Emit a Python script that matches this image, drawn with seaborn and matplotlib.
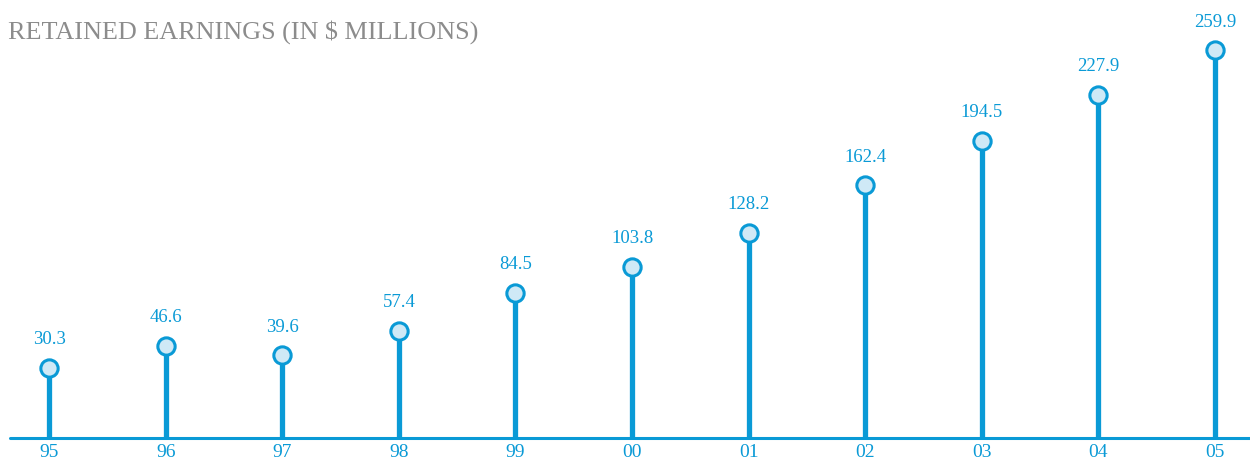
import numpy as np
import pandas as pd
import matplotlib
matplotlib.use("Agg")
import matplotlib.pyplot as plt
import seaborn as sns

years = ["95", "96", "97", "98", "99", "00", "01", "02", "03", "04", "05"]
earnings = [30.3, 46.6, 39.6, 57.4, 84.5, 103.8, 128.2, 162.4, 194.5, 227.9, 259.9]

blue = "#0a9ad6"
light = "#cfe9f6"
base = -20

sns.set_theme(style="white")
plt.rcParams["font.family"] = ["Liberation Serif", "DejaVu Serif"]

df = pd.DataFrame({"year": years, "value": earnings})
df["pos"] = np.arange(len(df))

fig = plt.figure(figsize=(12.5, 4.64), dpi=100)
ax = fig.add_axes([0.008, 0.054, 0.992, 0.922])

ax.vlines(df["pos"], base, df["value"], color=blue, linewidth=3.8, zorder=1)
sns.scatterplot(data=df, x="pos", y="value", s=155, color=light,
                edgecolor=blue, linewidth=2.2, zorder=3, ax=ax, legend=False)

for p, v in zip(df["pos"], df["value"]):
    ax.annotate(f"{v:.1f}", (p, v), xytext=(0, 15), textcoords="offset points",
                ha="center", va="bottom", color=blue, fontsize=13.5)

ax.set_xlim(-0.335, 10.3)
ax.set_ylim(base, 289)
ax.axhline(base, color=blue, linewidth=2.2, zorder=2, clip_on=False)
for s in ["top", "right", "left", "bottom"]:
    ax.spines[s].set_visible(False)
ax.set_yticks([])
ax.set_xticks(df["pos"])
ax.set_xticklabels(years, fontsize=14, color=blue)
ax.tick_params(axis="x", length=0, pad=4)
ax.set_xlabel("")
ax.set_ylabel("")

fig.text(0.006, 0.93, "RETAINED EARNINGS (IN $ MILLIONS)", fontsize=18.8,
         color="#8c8c8c", ha="left", va="center")

fig.savefig("out.png", dpi=100)
